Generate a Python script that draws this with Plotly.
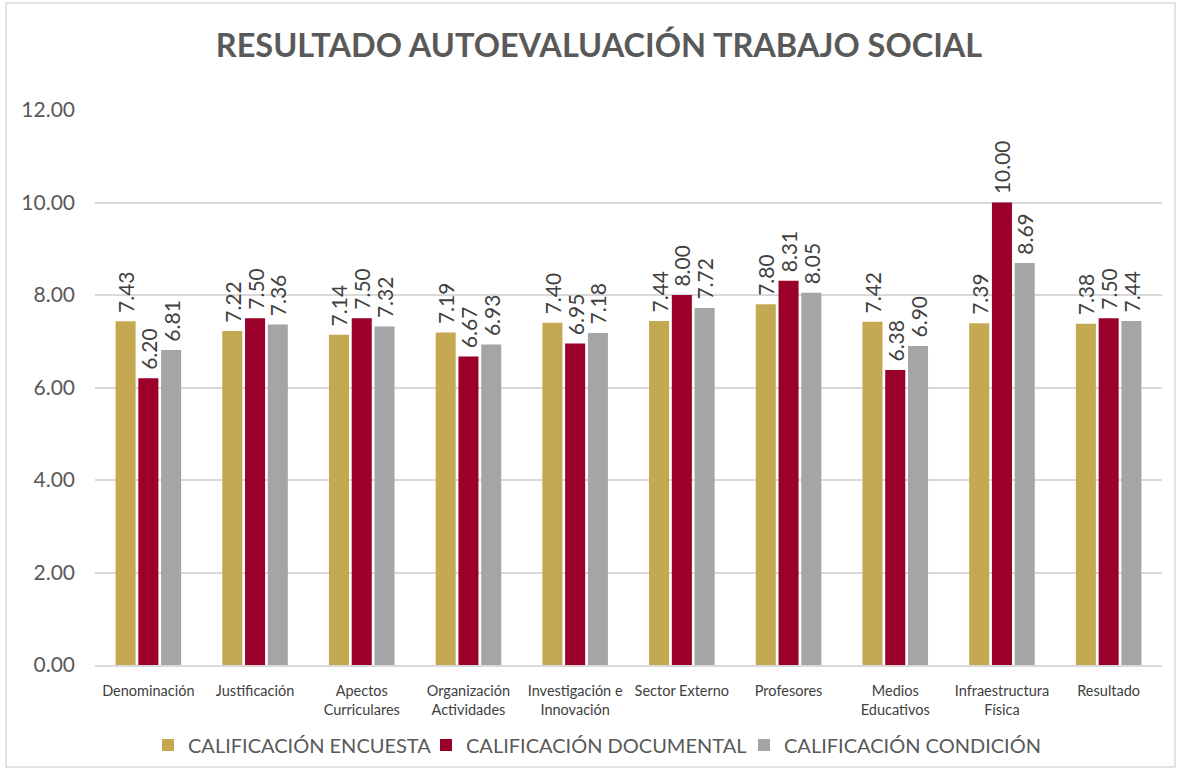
import plotly.graph_objects as go

categorias = [
    "Denominación", "Justificación", "Apectos<br>Curriculares",
    "Organización<br>Actividades", "Investigación e<br>Innovación",
    "Sector Externo", "Profesores", "Medios<br>Educativos",
    "Infraestructura<br>Física", "Resultado",
]
encuesta = [7.43, 7.22, 7.14, 7.19, 7.40, 7.44, 7.80, 7.42, 7.39, 7.38]
documental = [6.20, 7.50, 7.50, 6.67, 6.95, 8.00, 8.31, 6.38, 10.00, 7.50]
condicion = [6.81, 7.36, 7.32, 6.93, 7.18, 7.72, 8.05, 6.90, 8.69, 7.44]
y_ticks = [0, 2, 4, 6, 8, 10, 12]

series = [
    ("CALIFICACIÓN ENCUESTA", encuesta, "#C4A852", "legend"),
    ("CALIFICACIÓN DOCUMENTAL", documental, "#9A0029", "legend2"),
    ("CALIFICACIÓN CONDICIÓN", condicion, "#A5A5A5", "legend3"),
]

FONT = "Lato, 'Open Sans', sans-serif"
W, H = 1177, 768

fig = go.Figure()
for nombre, valores, color, leyenda in series:
    fig.add_trace(go.Bar(
        name=nombre,
        x=categorias,
        y=valores,
        legend=leyenda,
        marker=dict(color=color, line=dict(width=0)),
        text=[f"\u00a0{v:.2f}" for v in valores],
        textposition="outside",
        textangle=-90,
        constraintext="none",
        cliponaxis=False,
        textfont=dict(family=FONT, size=21, color="#404040"),
    ))

legend_style = dict(
    orientation="h",
    xref="container", yref="container",
    xanchor="left", yanchor="middle",
    y=(H - 745) / H,
    font=dict(family=FONT, size=20, color="#595959"),
    bgcolor="rgba(0,0,0,0)",
)

fig.update_layout(
    width=W,
    height=H,
    paper_bgcolor="white",
    plot_bgcolor="white",
    margin=dict(l=95, r=15, t=110, b=103, autoexpand=False),
    barmode="group",
    bargap=0.36,
    bargroupgap=0.12,
    font=dict(family=FONT, color="#595959"),
    title=dict(
        text="<b>RESULTADO AUTOEVALUACIÓN TRABAJO SOCIAL</b>",
        x=599 / W,
        xanchor="center",
        y=0.941,
        yanchor="middle",
        font=dict(family=FONT, size=32.5, color="#595959"),
    ),
    showlegend=True,
    legend=dict(legend_style, x=148 / W),
    legend2=dict(legend_style, x=426 / W),
    legend3=dict(legend_style, x=744 / W),
    xaxis=dict(
        showgrid=False,
        showline=True,
        linecolor="#D9D9D9",
        linewidth=1.5,
        ticks="",
        automargin=False,
        tickfont=dict(family=FONT, size=14.5, color="#404040"),
        ticklabelstandoff=12,
    ),
    yaxis=dict(
        range=[0, 12],
        tickvals=y_ticks,
        tickformat=".2f",
        showgrid=True,
        gridcolor="#D9D9D9",
        gridwidth=1.5,
        zeroline=False,
        showline=False,
        automargin=False,
        tickfont=dict(family=FONT, size=21, color="#595959"),
        ticklabelstandoff=19,
    ),
    shapes=[dict(
        type="rect",
        xref="paper", yref="paper",
        x0=(6 - 95) / 1067, x1=(1175 - 95) / 1067,
        y0=(665 - 767) / 555, y1=(665 - 3) / 555,
        line=dict(color="#D9D9D9", width=1.5),
        fillcolor="rgba(0,0,0,0)",
        layer="below",
    )],
)

fig.write_html("out.html")
